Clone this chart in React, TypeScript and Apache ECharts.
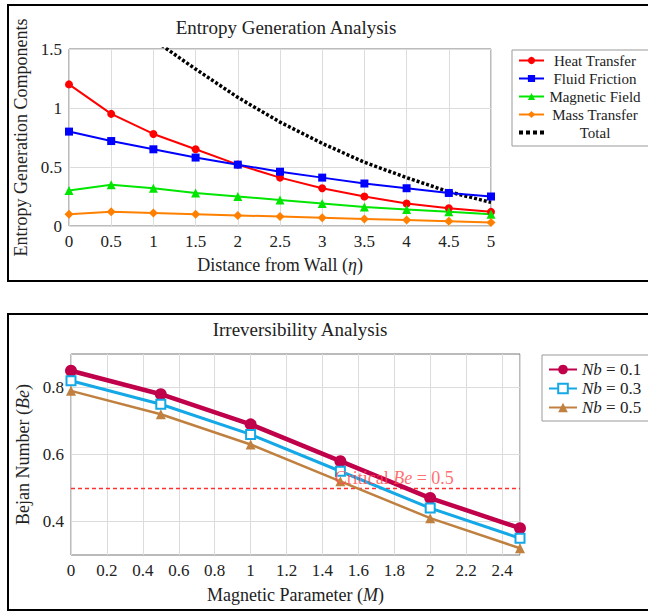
import React, { useEffect, useRef } from "react";
import * as echarts from "echarts";

// ---- Top chart data ----
const etaValues = [0, 0.5, 1, 1.5, 2, 2.5, 3, 3.5, 4, 4.5, 5];
const heatTransfer = [1.2, 0.95, 0.78, 0.65, 0.52, 0.41, 0.32, 0.25, 0.19, 0.15, 0.12];
const fluidFriction = [0.8, 0.72, 0.65, 0.58, 0.52, 0.46, 0.41, 0.36, 0.32, 0.28, 0.25];
const magneticField = [0.3, 0.35, 0.32, 0.28, 0.25, 0.22, 0.19, 0.16, 0.14, 0.12, 0.1];
const massTransfer = [0.1, 0.12, 0.11, 0.1, 0.09, 0.08, 0.07, 0.06, 0.05, 0.04, 0.03];
const totalEntropy = [2.3, 1.92, 1.58, 1.33, 1.09, 0.88, 0.7, 0.54, 0.41, 0.29, 0.2];

// ---- Bottom chart data ----
const mValues = [0, 0.5, 1, 1.5, 2, 2.5];
const nb01 = [0.85, 0.78, 0.69, 0.58, 0.47, 0.38];
const nb03 = [0.82, 0.75, 0.66, 0.55, 0.44, 0.35];
const nb05 = [0.79, 0.72, 0.63, 0.52, 0.41, 0.32];
const criticalBe = 0.5;
const criticalLabelX = 1.8;
const bottomYTicks = [0.4, 0.6, 0.8];

const FONT = "'Liberation Serif', 'DejaVu Serif', serif";
const TXT = "#222";

const zip = (xs: number[], ys: number[]) => xs.map((x, i) => [x, ys[i]]);

export default function App() {
  const ref = useRef<HTMLDivElement>(null);
  useEffect(() => {
    if (!ref.current) return;
    const chart = echarts.init(ref.current, null, { renderer: "svg" });
    const axisLabel = { color: TXT, fontFamily: FONT, fontSize: 17, margin: 7 };
    const splitLine = { show: true, lineStyle: { color: "#dcdcdc", width: 1 } };
    const italicRich = { i: { fontFamily: FONT, fontStyle: "italic", fontSize: 18, color: TXT } };
    const nameStyle = { fontFamily: FONT, fontSize: 18, color: TXT, rich: italicRich };
    const topLine = (name: string, data: number[], color: string, symbol: string, size: number) => ({
      name,
      type: "line",
      xAxisIndex: 0,
      yAxisIndex: 0,
      data: zip(etaValues, data),
      symbol,
      symbolSize: size,
      lineStyle: { color, width: 2 },
      itemStyle: { color },
      z: 3,
    });
    const totalIcon = "path://M0 0h4v4h-4zM7 0h4v4h-4zM14 0h4v4h-4zM21 0h4v4h-4z";
    const option: any = {
      animation: false,
      backgroundColor: "#fff",
      title: [
        {
          text: "Entropy Generation Analysis",
          left: 281,
          top: 13,
          textAlign: "center",
          textStyle: { fontFamily: FONT, fontSize: 19, fontWeight: "normal", color: TXT },
        },
        {
          text: "Irreversibility Analysis",
          left: 295,
          top: 315,
          textAlign: "center",
          textStyle: { fontFamily: FONT, fontSize: 19, fontWeight: "normal", color: TXT },
        },
      ],
      grid: [
        { left: 69, right: 157, top: 49, height: 177, show: true, borderColor: "#777", borderWidth: 1, backgroundColor: "transparent" },
        { left: 71, right: 128, top: 354, height: 201, show: true, borderColor: "#777", borderWidth: 1, backgroundColor: "transparent" },
      ],
      xAxis: [
        {
          type: "value",
          gridIndex: 0,
          min: 0,
          max: 5,
          interval: 0.5,
          name: "Distance from Wall ({i|η})",
          nameLocation: "middle",
          nameGap: 30,
          nameTextStyle: nameStyle,
          axisLine: { show: false },
          axisTick: { show: false },
          axisLabel,
          splitLine,
        },
        {
          type: "value",
          gridIndex: 1,
          min: 0,
          max: 2.5,
          interval: 0.2,
          name: "Magnetic Parameter ({i|M})",
          nameLocation: "middle",
          nameGap: 31,
          nameTextStyle: nameStyle,
          axisLine: { show: false },
          axisTick: { show: false },
          axisLabel: { ...axisLabel, showMaxLabel: false },
          splitLine,
        },
      ],
      yAxis: [
        {
          type: "value",
          gridIndex: 0,
          min: 0,
          max: 1.5,
          interval: 0.5,
          name: "Entropy Generation Components",
          nameLocation: "middle",
          nameGap: 31,
          nameTextStyle: { fontFamily: FONT, fontSize: 18, color: TXT },
          axisLine: { show: false },
          axisTick: { show: false },
          axisLabel,
          splitLine,
        },
        {
          type: "value",
          gridIndex: 1,
          min: 0.3,
          max: 0.9,
          name: "Bejan Number ({i|Be})",
          nameLocation: "middle",
          nameGap: 38,
          nameTextStyle: nameStyle,
          axisLine: { show: false },
          axisTick: { show: false, customValues: bottomYTicks },
          axisLabel: { ...axisLabel, customValues: bottomYTicks },
          splitLine,
        },
      ],
      legend: [
        {
          left: 518,
          top: 53,
          orient: "vertical",
          itemGap: 3,
          itemWidth: 25,
          itemHeight: 9,
          itemStyle: { borderWidth: 0 },
          padding: 0,
          symbolKeepAspect: true,
          data: [
            "Heat Transfer",
            "Fluid Friction",
            "Magnetic Field",
            "Mass Transfer",
            { name: "Total", icon: totalIcon },
          ],
          formatter: (n: string) => "{c|" + n + "}",
          textStyle: {
            fontFamily: FONT,
            fontSize: 15,
            color: TXT,
            rich: { c: { fontFamily: FONT, fontSize: 15, color: TXT, width: 92, align: "center" } },
          },
        },
        {
          left: 548,
          top: 361,
          orient: "vertical",
          itemGap: 2,
          itemWidth: 28,
          itemHeight: 12,
          padding: 0,
          data: ["Nb01", "Nb03", "Nb05"],
          formatter: (n: string) => "{i|Nb} = 0." + n.slice(3, 4),
          textStyle: {
            fontFamily: FONT,
            fontSize: 17,
            color: TXT,
            rich: { i: { fontFamily: FONT, fontStyle: "italic", fontSize: 17, color: TXT } },
          },
        },
      ],
      graphic: [
        { type: "rect", shape: { x: 8, y: 5, width: 660, height: 276 }, style: { fill: "none", stroke: "#000", lineWidth: 2 }, z: 0 },
        { type: "rect", shape: { x: 8, y: 314, width: 660, height: 296 }, style: { fill: "none", stroke: "#000", lineWidth: 2 }, z: 0 },
        { type: "rect", shape: { x: 512, y: 50, width: 160, height: 96 }, style: { fill: "#fff", stroke: "#999", lineWidth: 1 }, z: 0 },
        { type: "rect", shape: { x: 542, y: 355, width: 130, height: 66 }, style: { fill: "#fff", stroke: "#999", lineWidth: 1 }, z: 0 },
      ],
      series: [
        topLine("Heat Transfer", heatTransfer, "#ff0000", "circle", 8),
        topLine("Fluid Friction", fluidFriction, "#0000ff", "rect", 8),
        topLine("Magnetic Field", magneticField, "#00e600", "triangle", 9),
        topLine("Mass Transfer", massTransfer, "#ff8000", "diamond", 9),
        {
          name: "Total",
          type: "line",
          xAxisIndex: 0,
          yAxisIndex: 0,
          data: zip(etaValues, totalEntropy),
          symbol: "none",
          lineStyle: { color: "#000", width: 3.5, type: [3, 2], cap: "butt" },
          itemStyle: { color: "#000" },
          z: 2,
        },
        {
          name: "Nb01",
          type: "line",
          xAxisIndex: 1,
          yAxisIndex: 1,
          data: zip(mValues, nb01),
          symbol: "circle",
          symbolSize: 12,
          lineStyle: { color: "#c0004a", width: 4.5 },
          itemStyle: { color: "#c0004a" },
          z: 3,
        },
        {
          name: "Nb03",
          type: "line",
          xAxisIndex: 1,
          yAxisIndex: 1,
          data: zip(mValues, nb03),
          symbol: "rect",
          symbolSize: 9,
          lineStyle: { color: "#14a8e6", width: 3 },
          itemStyle: { color: "#fff", borderColor: "#14a8e6", borderWidth: 2 },
          z: 4,
        },
        {
          name: "Nb05",
          type: "line",
          xAxisIndex: 1,
          yAxisIndex: 1,
          data: zip(mValues, nb05),
          symbol: "triangle",
          symbolSize: 10,
          lineStyle: { color: "#c08040", width: 2.5 },
          itemStyle: { color: "#c08040" },
          z: 5,
          markLine: {
            silent: true,
            symbol: "none",
            label: { show: false },
            lineStyle: { color: "#ff3030", type: [4, 3], width: 1.3 },
            data: [{ yAxis: criticalBe }],
            z: 1,
          },
        },
        {
          name: "criticalLabel",
          type: "scatter",
          xAxisIndex: 1,
          yAxisIndex: 1,
          data: [[criticalLabelX, criticalBe]],
          symbolSize: 0,
          silent: true,
          label: {
            show: true,
            position: "top",
            distance: 1,
            formatter: "Critical {i|Be} = 0.5",
            color: "#ff4a4a",
            fontFamily: FONT,
            fontSize: 18,
            rich: { i: { fontFamily: FONT, fontStyle: "italic", fontSize: 18, color: "#ff4a4a" } },
          },
          z: 6,
        },
      ],
    };
    chart.setOption(option);
    return () => chart.dispose();
  }, []);
  return <div ref={ref} style={{ position: "fixed", left: 0, top: 0, width: 648, height: 612 }} />;
}
